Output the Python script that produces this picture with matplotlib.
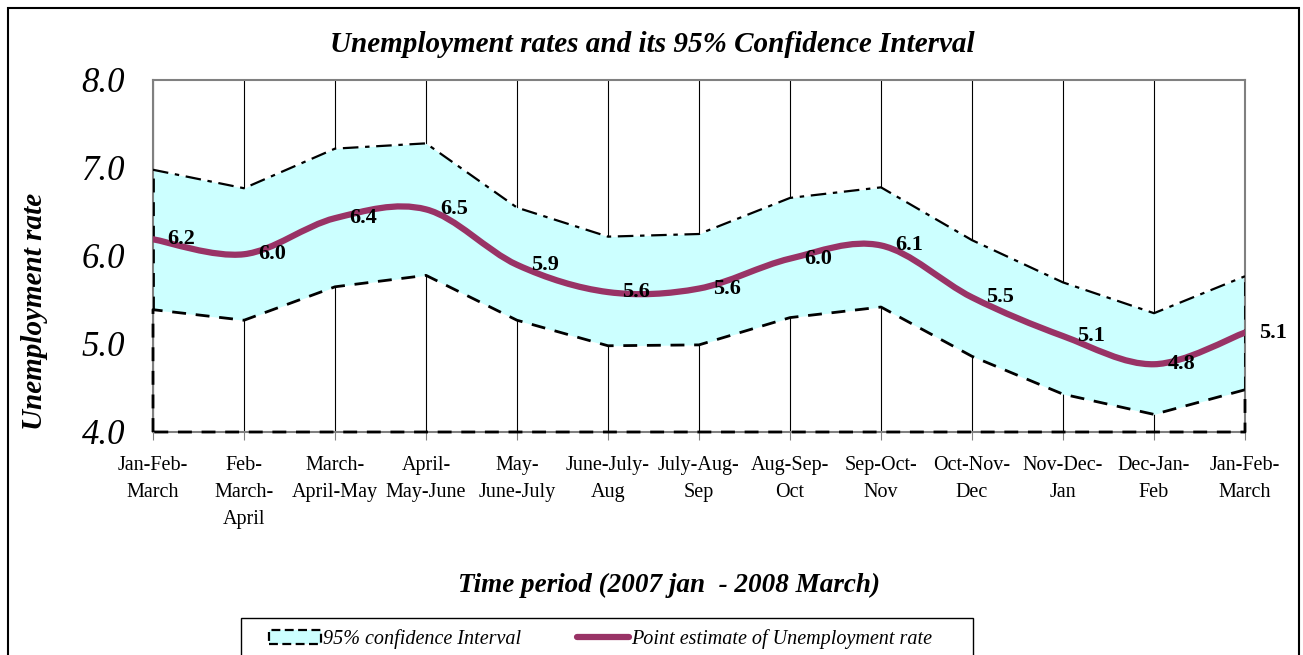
import numpy as np
import matplotlib
matplotlib.use('Agg')
import matplotlib.pyplot as plt
from matplotlib.patches import Rectangle, Patch
from matplotlib.lines import Line2D
from matplotlib.path import Path
from matplotlib.patches import PathPatch

periods = ['Jan-Feb-\nMarch', 'Feb-\nMarch-\nApril', 'March-\nApril-May', 'April-\nMay-June',
           'May-\nJune-July', 'June-July-\nAug', 'July-Aug-\nSep', 'Aug-Sep-\nOct',
           'Sep-Oct-\nNov', 'Oct-Nov-\nDec', 'Nov-Dec-\nJan', 'Dec-Jan-\nFeb', 'Jan-Feb-\nMarch']
rate = [6.19, 6.02, 6.43, 6.53, 5.90, 5.59, 5.63, 5.97, 6.12, 5.53, 5.09, 4.77, 5.13]
upper = [6.98, 6.77, 7.22, 7.28, 6.55, 6.22, 6.25, 6.66, 6.78, 6.18, 5.70, 5.35, 5.77]
lower = [5.39, 5.27, 5.65, 5.78, 5.27, 4.98, 4.99, 5.30, 5.42, 4.86, 4.43, 4.20, 4.48]
yticks = [4.0, 5.0, 6.0, 7.0, 8.0]

serif = 'Liberation Serif'
plt.rcParams['font.family'] = serif

fig = plt.figure(figsize=(13.03, 6.55), dpi=100)
W, H = 1303, 655
ax = fig.add_axes([153 / W, 1 - 432 / H, (1245 - 153) / W, (432 - 80) / H])

x = np.arange(len(rate))
base = yticks[0]

# lower area (white) with dashed border, upper band in light cyan
ax.fill_between(x, lower, upper, color='#CCFFFF', lw=0, zorder=1)
lower_outline = [(0, base)] + list(zip(x, lower)) + [(x[-1], base), (0, base)]
lx, ly = zip(*lower_outline)
ax.plot(lx, ly, color='black', lw=2, ls=(0, (5, 3.5)), zorder=3, clip_on=False)
ax.plot([0, 0], [lower[0], upper[0]], color='black', lw=2, ls=(0, (5, 3.5)), zorder=3)
ax.plot([x[-1], x[-1]], [lower[-1], upper[-1]], color='black', lw=2, ls=(0, (5, 3.5)), zorder=3)
ax.plot(x, upper, color='black', lw=1.6, ls=(0, (7, 3, 2, 3)), zorder=3)

# smoothed line (Excel style bezier)
verts = [(x[0], rate[0])]
codes = [Path.MOVETO]
n = len(rate)
for i in range(n - 1):
    p0 = np.array([x[max(i - 1, 0)], rate[max(i - 1, 0)]])
    p1 = np.array([x[i], rate[i]])
    p2 = np.array([x[i + 1], rate[i + 1]])
    p3 = np.array([x[min(i + 2, n - 1)], rate[min(i + 2, n - 1)]])
    c1 = p1 + (p2 - p0) / 6
    c2 = p2 - (p3 - p1) / 6
    verts += [tuple(c1), tuple(c2), tuple(p2)]
    codes += [Path.CURVE4] * 3
ax.add_patch(PathPatch(Path(verts, codes), fill=False, edgecolor='#993366', lw=4.5,
                       capstyle='round', zorder=4))

for xi, v in zip(x, rate):
    ax.annotate(f'{v:.1f}', (xi, v), xytext=(10, 0), textcoords='offset points',
                ha='left', va='center', fontsize=16, fontweight='bold', zorder=5,
                annotation_clip=False)

ax.set_xlim(0, x[-1])
ax.set_ylim(yticks[0], yticks[-1])
ax.set_xticks(x)
ax.set_xticklabels(periods, fontsize=14.5, linespacing=1.58)
ax.set_yticks(yticks)
ax.set_yticklabels([f'{t:.1f}' for t in yticks], fontsize=25, fontstyle='italic')
ax.tick_params(axis='y', length=0, pad=20)
ax.tick_params(axis='x', length=6, pad=11, color='#808080')
ax.grid(axis='x', color='black', lw=0.8)
ax.set_axisbelow(True)
for s in ax.spines.values():
    s.set_color('#808080')
    s.set_linewidth(1.5)

fig.text(652 / W, 1 - 45 / H, 'Unemployment rates and its 95% Confidence Interval',
         ha='center', va='center', fontsize=21, fontweight='bold', fontstyle='italic')
fig.text(669 / W, 1 - 585 / H, 'Time period (2007 jan  - 2008 March)',
         ha='center', va='center', fontsize=19.5, fontweight='bold', fontstyle='italic')
fig.text(35 / W, 1 - 311 / H, 'Unemployment rate', rotation=90,
         ha='center', va='center', fontsize=21, fontweight='bold', fontstyle='italic')

handles = [Patch(facecolor='#CCFFFF', edgecolor='black', lw=1.6, ls=(0, (4, 2))),
           Line2D([0], [0], color='#993366', lw=4.5, solid_capstyle='round')]
labels = ['95% confidence Interval', 'Point estimate of Unemployment rate']
leg = fig.legend(handles, labels, loc='upper left', ncol=2,
                 bbox_to_anchor=(269 / W, 1 - 629 / H), frameon=False,
                 prop={'family': serif, 'style': 'italic', 'size': 14.5},
                 handlelength=2.6, handletextpad=0.1, columnspacing=2.75,
                 borderpad=0, borderaxespad=0)

# legend frame (runs past the bottom of the picture, as in the original)
fig.patches.append(Rectangle((241 / W, -0.05), (973 - 241) / W, 0.05 + 1 - 618 / H,
                             transform=fig.transFigure, fill=False, edgecolor='black', lw=1))
fig.patches.append(Rectangle((8 / W, -0.05), (1299 - 8) / W, 1.05 - 8 / H,
                             transform=fig.transFigure, fill=False, edgecolor='black', lw=1.5))

fig.savefig('out.png', dpi=100)
